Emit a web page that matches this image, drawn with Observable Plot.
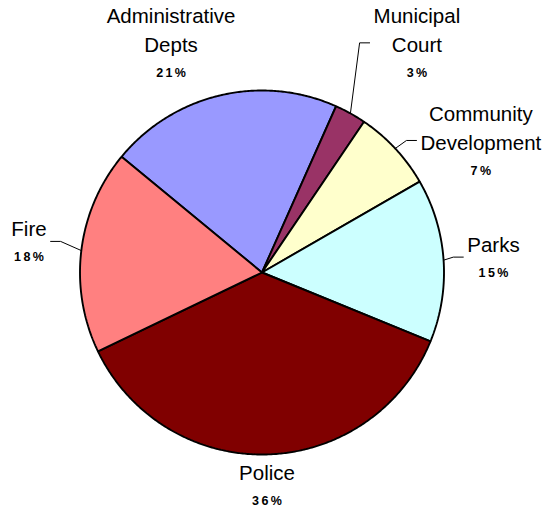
<!DOCTYPE html>
<html><head><meta charset="utf-8">
<script src="https://cdn.jsdelivr.net/npm/d3@7"></script>
<script src="https://cdn.jsdelivr.net/npm/@observablehq/plot@0.6"></script>
<style>body{margin:0;background:#fff}</style>
</head><body><div id="chart"></div>
<script>
// ---- data ----
const categories = ["Administrative Depts","Municipal Court","Community Development","Parks","Police","Fire"];
const nameLines = [["Administrative","Depts"],["Municipal","Court"],["Community","Development"],["Parks"],["Police"],["Fire"]];
const shares = [20.7, 2.8, 7.2, 14.5, 36.7, 18.1];
const percentLabels = ["21%","3%","7%","15%","36%","18%"];
const colors = ["#9999FF","#993366","#FFFFCC","#CCFFFF","#800000","#FF8080"];

// ---- layout ----
const W = 544, H = 508, CX = 261.5, CY = 272, R = 182;
const firstSliceDeg = -50.5;
const nameSize = 20.5, pctSize = 12.5, font = "Liberation Sans, Arial, sans-serif";
// label block centre: [angle deg clockwise from 12 o'clock, distance px from pie centre]
const labelPolar = [[338.4,247],[34.0,277],[58.9,255.6],[86.2,232],[178.65,212.4],[277.6,235.1]];
const withLeader = [false,true,true,true,false,true];

const rows = categories.map((c,i)=>({cat:c, v:shares[i], i}));
const arcs = d3.pie().sort(null).value(d=>d.v)
  .startAngle(firstSliceDeg*Math.PI/180)
  .endAngle(firstSliceDeg*Math.PI/180 + 2*Math.PI)(rows);

// slice polygons
const slicePts = [];
for (const a of arcs) {
  const c = a.data.cat;
  slicePts.push({cat:c, x:0, y:0});
  const n = Math.max(2, Math.ceil((a.endAngle-a.startAngle)/(Math.PI/360)));
  for (let k=0;k<=n;k++){
    const t = a.startAngle + (a.endAngle-a.startAngle)*k/n;
    slicePts.push({cat:c, x:R*Math.sin(t), y:-R*Math.cos(t)});
  }
  slicePts.push({cat:c, x:0, y:0});
}

// text measuring
const ctx = document.createElement("canvas").getContext("2d");
ctx.font = `${nameSize}px Liberation Sans`;

const texts = [], pcts = [], leaders = [];
arcs.forEach((a,i)=>{
  const [deg, dist] = labelPolar[i];
  const t = deg*Math.PI/180;
  const bx = dist*Math.sin(t), by = -dist*Math.cos(t);
  const lines = nameLines[i];
  const n = lines.length;
  const hgt = 15 + 29*(n-1) + 25;
  const top = by - hgt/2;
  lines.forEach((s,k)=>{
    texts.push({text:s, x:bx, y: top + 15 + 29*k - 0.32*nameSize});
  });
  pcts.push({text:percentLabels[i], x:bx + 1.2, y: top + 15 + 29*(n-1) + 25 - 0.32*pctSize});
  if (withLeader[i]) {
    const hw = Math.max(...lines.map(s=>ctx.measureText(s).width))/2;
    const mid = (a.startAngle+a.endAngle)/2;
    const ax = R*Math.sin(mid), ay = -R*Math.cos(mid);
    const side = Math.sin(mid) >= 0 ? 1 : -1;
    const ex = bx - side*(hw+4);
    const mx = ex - side*10;
    leaders.push({cat:a.data.cat, x:ax, y:ay},{cat:a.data.cat, x:mx, y:by},{cat:a.data.cat, x:ex, y:by});
  }
});

const chart = Plot.plot({
  width: W, height: H, margin: 0,
  x: {domain:[-CX, W-CX], range:[0,W], axis:null},
  y: {domain:[-CY, H-CY], range:[0,H], axis:null},
  color: {domain: categories, range: colors},
  style: {background:"white", fontFamily: font},
  marks: [
    Plot.line(slicePts, {x:"x", y:"y", z:"cat", fill:"cat", stroke:"black", strokeWidth:1.9, strokeLinejoin:"miter", curve:"linear"}),
    Plot.line(leaders, {x:"x", y:"y", z:"cat", stroke:"black", strokeWidth:1, strokeLinejoin:"miter", curve:"linear"}),
    Plot.text(texts, {x:"x", y:"y", text:"text", fontSize:nameSize, fill:"black", textAnchor:"middle", fontFamily:font}),
    Plot.text(pcts, {x:"x", y:"y", text:"text", fontSize:pctSize, fontWeight:"bold", fill:"black", textAnchor:"middle", fontFamily:font})
  ]
});
chart.querySelectorAll('g[font-weight="bold"] text').forEach(el=>{
  el.setAttribute("letter-spacing","2.4");
  el.style.letterSpacing = "2.4px";
});
document.getElementById("chart").appendChild(chart);
</script>
</body></html>
